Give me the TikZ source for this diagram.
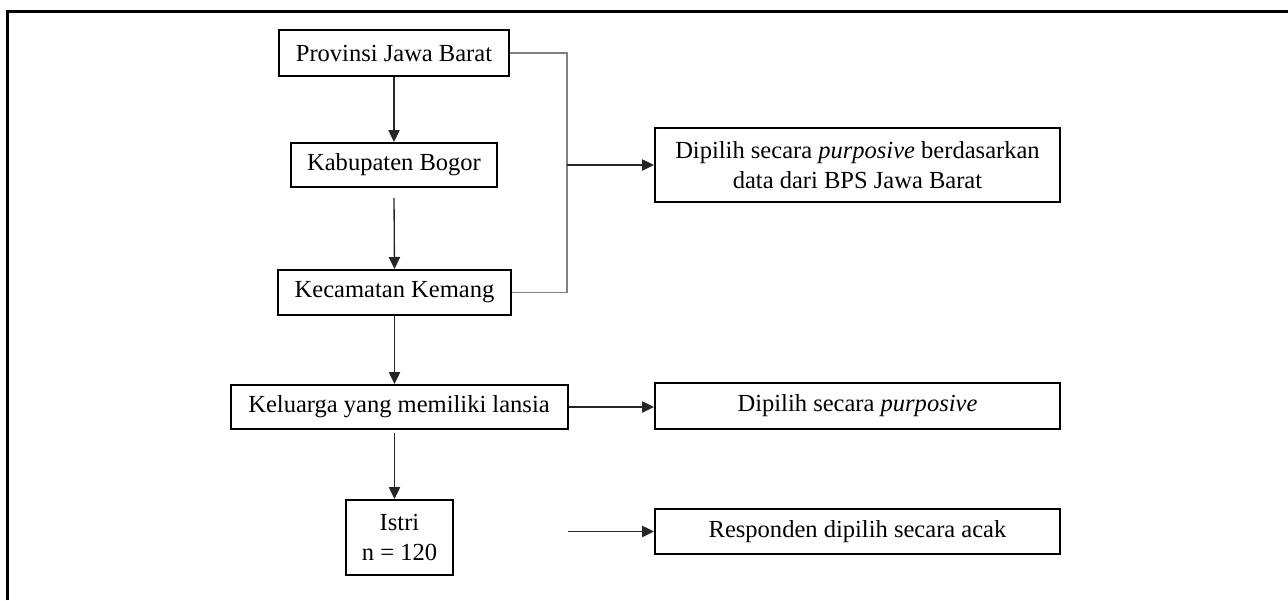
\documentclass[tikz,border=0pt]{standalone}
\usepackage{fontspec}
\setmainfont{Liberation Serif}
\usetikzlibrary{arrows.meta}
\def\px{0.75pt}
\begin{document}
\begin{tikzpicture}[x=0.75pt,y=-0.75pt,
  box/.style={draw=black, line width=1.5pt, inner sep=0pt, align=center,
    font=\fontsize{18.4}{22.5}\selectfont},
  arr/.style={draw=black!85, line width=1pt, -{Triangle[length=9pt,width=8.5pt]}},
  brk/.style={draw=black!50, line width=1pt}]
\useasboundingbox (0,0) rectangle (1288,600);
\draw[line width=1.8pt] (7.5,600) -- (7.5,11.5) -- (1288,11.5);

\node[box, minimum width=230*\px, minimum height=46*\px] (prov) at (394,53) {Provinsi Jawa Barat};
\node[box, minimum width=206*\px, minimum height=44*\px] (kab) at (394,165) {Kabupaten Bogor};
\node[box, minimum width=233*\px, minimum height=45*\px] (kec) at (394.5,292.5) {Kecamatan Kemang};
\node[box, minimum width=337*\px, minimum height=44*\px] (kel) at (399,407) {Keluarga yang memiliki lansia};
\node[box, minimum width=107*\px, minimum height=75*\px] (istri) at (399.5,537.5) {Istri\\n = 120};

\node[box, minimum width=405*\px, minimum height=74*\px] (d1) at (857.5,165) {Dipilih secara \textit{purposive} berdasarkan\\data dari BPS Jawa Barat};
\node[box, minimum width=405*\px, minimum height=46*\px] (d2) at (857.5,406) {Dipilih secara \textit{purposive}};
\node[box, minimum width=405*\px, minimum height=45*\px] (resp) at (857.5,531.5) {Responden dipilih secara acak};

\coordinate (bx) at (567,0);
\coordinate (free) at (568,531.5);

\draw[arr] (prov.south) -- (kab.north);
\draw[arr] ([yshift=-7.5pt]kab.south) -- (kec.north);
\draw[arr] (kec.south) -- (kec.south |- kel.north);
\draw[arr] ([yshift=-2pt]kec.south |- kel.south) -- (kec.south |- istri.north);

\draw[brk] (prov.east) -| (bx |- kec.east) -- (kec.east);
\draw[arr] (bx |- d1.west) -- (d1.west);
\draw[arr] (kel.east) -- (kel.east -| d2.west);
\draw[arr] (free) -- (resp.west);
\end{tikzpicture}
\end{document}
